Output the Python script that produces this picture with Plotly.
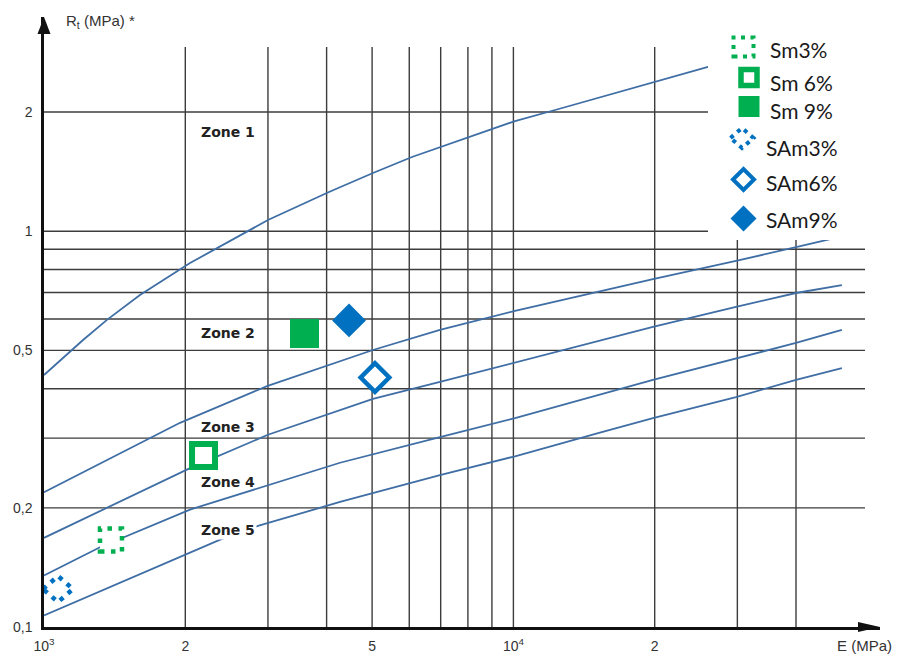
import plotly.graph_objects as go

# ---------------- data ----------------
# zone boundary curves: modulus E (MPa) vs tensile strength Rt (MPa)
E_C1 = [1000, 1211, 1362, 1601, 2047, 3000, 4047, 5021, 6081, 8163, 10080, 12270, 19830, 25980, 40000]
R_C1 = [0.433, 0.531, 0.597, 0.690, 0.831, 1.067, 1.256, 1.403, 1.540, 1.740, 1.898, 2.024, 2.382, 2.60, 2.95]
E_C2 = [1000, 1949, 2986, 5021, 6975, 10080, 19830, 29800, 40000, 50400]
R_C2 = [0.219, 0.328, 0.406, 0.501, 0.563, 0.629, 0.757, 0.841, 0.912, 0.972]
E_C3 = [1000, 2047, 3000, 5021, 6975, 10080, 19830, 29800, 40000, 50100]
R_C3 = [0.168, 0.252, 0.306, 0.377, 0.416, 0.465, 0.573, 0.644, 0.698, 0.731]
E_C4 = [1000, 1316, 2047, 4272, 6975, 10080, 19830, 29800, 40000, 50100]
R_C4 = [0.135, 0.159, 0.198, 0.260, 0.302, 0.337, 0.421, 0.478, 0.522, 0.563]
E_C5 = [1000, 2394, 2857, 4272, 6975, 10080, 15150, 19830, 29800, 40000, 50100]
R_C5 = [0.107, 0.167, 0.180, 0.207, 0.242, 0.270, 0.309, 0.337, 0.381, 0.421, 0.451]

# material points
SERIES = ["Sm3%", "Sm 6%", "Sm 9%", "SAm3%", "SAm6%", "SAm9%"]
E_PTS = [1389, 2187, 3589, 1071, 5071, 4465]
R_PTS = [0.1659, 0.2712, 0.5513, 0.1247, 0.4269, 0.5951]

ZONES = ["Zone 1", "Zone 2", "Zone 3", "Zone 4", "Zone 5"]
GRID_E = [2000, 3000, 4000, 5000, 6000, 7000, 8000, 9000, 10000, 20000, 30000, 40000]
GRID_R = [0.2, 0.3, 0.4, 0.5, 0.6, 0.7, 0.8, 0.9, 1, 2]
XTICK_V = [1000, 2000, 5000, 10000, 20000]
XTICK_T = ["10<sup>3</sup>", "2", "5", "10<sup>4</sup>", "2"]
YTICK_V = [0.1, 0.2, 0.5, 1, 2]
YTICK_T = ["0,1", "0,2", "0,5", "1", "2"]

# ---------------- layout geometry ----------------
W, H = 898, 655
ML, MR, MT, MB = 44, 18, 17, 28
PW, PH = W - ML - MR, H - MT - MB
X_DEC, Y_DEC = 469.4, 395.8
XR = [3, 3 + PW / X_DEC]
YR = [-1, -1 + PH / Y_DEC]


def fx(p):
    return (p - ML) / PW


def fy(p):
    return (H - MB - p) / PH


GREEN = "#00B050"
BLUE = "#0070C0"
CURVE = "#3f6ea5"
GRID = "#3c3c3c"

fig = go.Figure()

for xs, ys in [(E_C1, R_C1), (E_C2, R_C2), (E_C3, R_C3), (E_C4, R_C4), (E_C5, R_C5)]:
    fig.add_trace(go.Scatter(x=xs, y=ys, mode="lines",
                             line=dict(color=CURVE, width=1.8),
                             showlegend=False, hoverinfo="skip"))

marker_styles = [
    dict(symbol="square", size=22, color="white", line=dict(width=0)),
    dict(symbol="square", size=23, color="white", line=dict(color=GREEN, width=6)),
    dict(symbol="square", size=29, color=GREEN, line=dict(width=0)),
    dict(symbol="diamond", size=22, color="white", line=dict(width=0)),
    dict(symbol="diamond", size=22, color="white", line=dict(color=BLUE, width=4.5)),
    dict(symbol="diamond", size=26, color=BLUE, line=dict(width=0)),
]
for name, e, r, ms in zip(SERIES, E_PTS, R_PTS, marker_styles):
    fig.add_trace(go.Scatter(x=[e], y=[r], mode="markers", name=name, marker=ms,
                             showlegend=False))

shapes = []
for e in GRID_E:
    shapes.append(dict(type="line", xref="x", yref="paper", x0=e, x1=e, y0=0, y1=fy(47),
                       line=dict(color=GRID, width=1.4), layer="below"))
for r in GRID_R:
    shapes.append(dict(type="line", xref="paper", yref="y", x0=0, x1=fx(865), y0=r, y1=r,
                       line=dict(color=GRID, width=1.4), layer="below"))

# dotted markers (Sm3%, SAm3%)
shapes.append(dict(type="path", xref="x", yref="y", xsizemode="pixel", ysizemode="pixel",
                   xanchor=E_PTS[0], yanchor=R_PTS[0],
                   path="M -11,-11.5 L 11,-11.5 L 11,11.5 L -11,11.5 Z",
                   line=dict(color=GREEN, width=4.5, dash="4.5px,6.5px"), fillcolor="white",
                   layer="above"))
shapes.append(dict(type="path", xref="x", yref="y", xsizemode="pixel", ysizemode="pixel",
                   xanchor=E_PTS[3], yanchor=R_PTS[3], path="M -15,0 L 0,13 L 15,0 L 0,-13 Z",
                   line=dict(color=BLUE, width=4.5, dash="4.5px,6px"), fillcolor="white",
                   layer="above"))

# axis arrows
shapes.append(dict(type="path", xref="paper", yref="paper", xsizemode="pixel", ysizemode="pixel",
                   xanchor=1, yanchor=0, path="M -22,-5 L -22,5 L 0,0 Z",
                   fillcolor="#111", line=dict(width=0), layer="above"))
shapes.append(dict(type="path", xref="paper", yref="paper", xsizemode="pixel", ysizemode="pixel",
                   xanchor=0, yanchor=1, path="M -6.5,-17 L 6.5,-17 L 0,0 Z",
                   fillcolor="#111", line=dict(width=0), layer="above"))

# manual legend box
shapes.append(dict(type="rect", xref="paper", yref="paper", x0=fx(708), x1=fx(900),
                   y0=fy(240), y1=fy(25), fillcolor="white", line=dict(width=0), layer="above"))


def icon(xc, yc, **kw):
    d = dict(xref="paper", yref="paper", xsizemode="pixel", ysizemode="pixel",
             xanchor=fx(xc), yanchor=fy(yc), layer="above")
    d.update(kw)
    return d


shapes.append(icon(743.5, 47, type="rect", x0=-10, x1=10, y0=-9.5, y1=9.5,
                   line=dict(color=GREEN, width=4, dash="4px,5.5px"), fillcolor="white"))
shapes.append(icon(749, 77.5, type="rect", x0=-8, x1=8, y0=-8, y1=8,
                   line=dict(color=GREEN, width=5.5), fillcolor="white"))
shapes.append(icon(749, 106.5, type="rect", x0=-10.5, x1=10.5, y0=-10.5, y1=10.5,
                   line=dict(width=0), fillcolor=GREEN))
shapes.append(icon(742, 138, type="path", path="M -11.5,0 L 0,10 L 11.5,0 L 0,-10 Z",
                   line=dict(color=BLUE, width=4, dash="4px,5px"), fillcolor="white"))
shapes.append(icon(743.5, 179.5, type="path", path="M -10.5,0 L 0,10.5 L 10.5,0 L 0,-10.5 Z",
                   line=dict(color=BLUE, width=4), fillcolor="white"))
shapes.append(icon(743.5, 218.5, type="path", path="M -13,0 L 0,13 L 13,0 L 0,-13 Z",
                   line=dict(width=0), fillcolor=BLUE))

ann = []
LEG_POS = [(768, 50), (768, 82), (768, 110), (764, 147), (764, 183), (764, 219)]
for name, (lx, ly) in zip(SERIES, LEG_POS):
    ann.append(dict(text=name, xref="paper", yref="paper", x=fx(lx), y=fy(ly),
                    xanchor="left", yanchor="middle", showarrow=False,
                    font=dict(family="Lato", size=21, color="#1a1a1a")))

ZONE_POS = [(228, 132), (228, 333), (228, 427), (228, 482), (228, 530)]
for i, (z, (zx, zy)) in enumerate(zip(ZONES, ZONE_POS)):
    a = dict(text="<b>" + z + "</b>", xref="paper", yref="paper", x=fx(zx), y=fy(zy),
             xanchor="center", yanchor="middle", showarrow=False,
             font=dict(family="DejaVu Sans", size=14, color="#222"))
    if i == 4:
        a.update(bgcolor="white", borderpad=1)
    ann.append(a)

ann.append(dict(text="R<sub>t</sub> (MPa) *", xref="paper", yref="paper", x=fx(64), y=fy(21),
                xanchor="left", yanchor="middle", showarrow=False,
                font=dict(family="Liberation Sans", size=15, color="#333")))
ann.append(dict(text="E (MPa)", xref="paper", yref="paper", x=fx(835), y=fy(645),
                xanchor="left", yanchor="middle", showarrow=False,
                font=dict(family="Liberation Sans", size=15, color="#333")))

fig.update_layout(
    width=W, height=H,
    margin=dict(l=ML, r=MR, t=MT, b=MB, pad=0, autoexpand=False),
    paper_bgcolor="white", plot_bgcolor="white",
    shapes=shapes, annotations=ann, showlegend=False,
    xaxis=dict(type="log", range=XR, showgrid=False, zeroline=False, automargin=False,
               showline=True, linecolor="#111", linewidth=2.5,
               tickmode="array", tickvals=XTICK_V, ticktext=XTICK_T, ticks="",
               ticklabelstandoff=4,
               tickfont=dict(family="Liberation Sans", size=14, color="#333")),
    yaxis=dict(type="log", range=YR, showgrid=False, zeroline=False, automargin=False,
               showline=True, linecolor="#111", linewidth=2.5,
               tickmode="array", tickvals=YTICK_V, ticktext=YTICK_T, ticks="",
               ticklabelstandoff=6,
               tickfont=dict(family="Liberation Sans", size=14, color="#333")),
)

fig.write_html("out.html", config={"displayModeBar": False},
               post_script="document.body.style.margin='0';document.body.style.overflow='hidden';")
